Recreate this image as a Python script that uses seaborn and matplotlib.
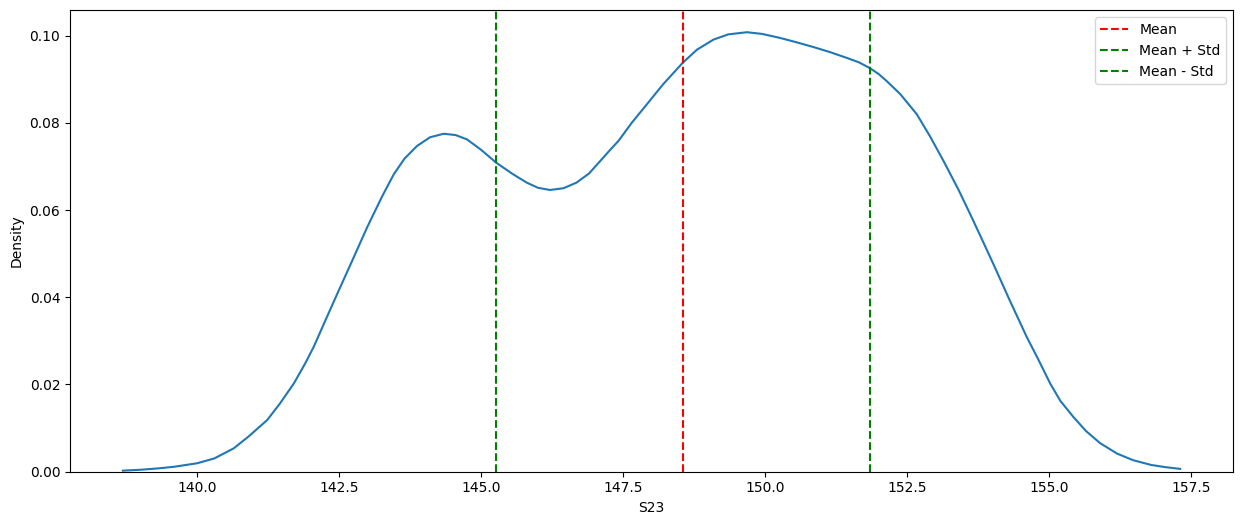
import numpy as np
import pandas as pd
import seaborn as sns
import matplotlib
matplotlib.use('Agg')
import matplotlib.pyplot as plt

# density curve of S23
s23_x = [138.69, 139.00, 139.30, 139.60, 140.00, 140.30, 140.64, 140.90, 141.23,
         141.45, 141.70, 141.90, 142.05, 142.25, 142.49, 142.75, 142.99, 143.25,
         143.46, 143.65, 143.87, 144.10, 144.34, 144.55, 144.75, 145.00, 145.26,
         145.55, 145.80, 146.00, 146.21, 146.45, 146.68, 146.90, 147.10, 147.25,
         147.42, 147.65, 147.92, 148.20, 148.55, 148.80, 149.09, 149.35, 149.68,
         149.95, 150.26, 150.55, 150.85, 151.15, 151.44, 151.65, 151.84, 152.00,
         152.14, 152.38, 152.67, 152.90, 153.14, 153.40, 153.61, 153.80, 154.02,
         154.30, 154.61, 154.80, 155.02, 155.20, 155.43, 155.65, 155.90, 156.20,
         156.48, 156.80, 157.05, 157.31]
density = [0.0002, 0.0004, 0.0007, 0.0011, 0.0019, 0.0030, 0.0053, 0.0080, 0.0118,
           0.0155, 0.0202, 0.0248, 0.0286, 0.0345, 0.0415, 0.0490, 0.0560, 0.0630,
           0.0682, 0.0718, 0.0747, 0.0767, 0.0775, 0.0772, 0.0762, 0.0738, 0.0709,
           0.0683, 0.0663, 0.0651, 0.0646, 0.0650, 0.0663, 0.0684, 0.0713, 0.0735,
           0.0759, 0.0800, 0.0843, 0.0888, 0.0938, 0.0968, 0.0991, 0.1003, 0.1008,
           0.1004, 0.0995, 0.0985, 0.0974, 0.0962, 0.0949, 0.0939, 0.0926, 0.0912,
           0.0896, 0.0866, 0.0820, 0.0770, 0.0713, 0.0648, 0.0591, 0.0538, 0.0476,
           0.0395, 0.0308, 0.0260, 0.0202, 0.0162, 0.0125, 0.0093, 0.0065, 0.0041,
           0.0026, 0.0015, 0.0010, 0.0006]

mean = 148.55
std = 3.29

df = pd.DataFrame({'S23': s23_x, 'Density': density})

fig, ax = plt.subplots(figsize=(12.42, 5.25), dpi=100)
plt.subplots_adjust(left=0.0564, right=0.9928, top=0.9804, bottom=0.1019)

sns.lineplot(data=df, x='S23', y='Density', ax=ax, color='#1f77b4')
ax.set_ylim(bottom=0)

l1 = ax.axvline(mean, color='red', linestyle='--', label='Mean')
l2 = ax.axvline(mean + std, color='green', linestyle='--', label='Mean + Std')
l3 = ax.axvline(mean - std, color='green', linestyle='--', label='Mean - Std')
ax.legend(handles=[l1, l2, l3], loc='upper right')

ax.set_xlabel('S23')
ax.set_ylabel('Density')

plt.savefig('out.png', dpi=100)
